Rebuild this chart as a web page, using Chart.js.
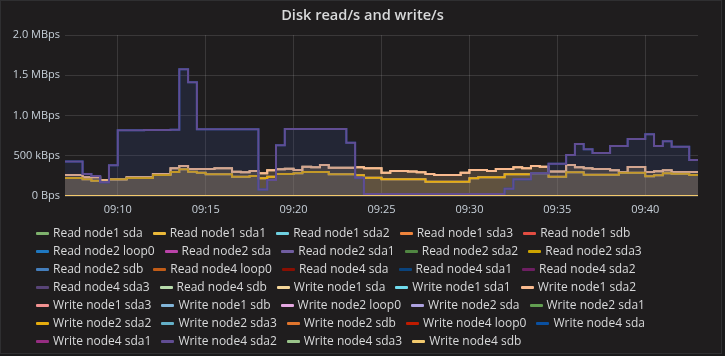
<!DOCTYPE html>
<html>
<head>
<meta charset="utf-8">
<script src="https://cdn.jsdelivr.net/npm/chart.js@4.4.1/dist/chart.umd.min.js"></script>
<style>
  html, body { margin: 0; padding: 0; width: 725px; height: 356px; overflow: hidden; background: #1a1a1b; }
  #panel { position: absolute; left: 0; top: 0; width: 720px; height: 352px; background: #1f1d1e; border: 1px solid #2f2f31; }
  #chart { position: absolute; left: 0; top: 0; }
  #legend { position: absolute; left: 36px; top: 224px; width: 680px; display: flex; flex-wrap: wrap;
            font-family: "Open Sans", sans-serif; font-size: 12px; color: #d8d9da; line-height: 18px; }
  .item { display: inline-flex; align-items: center; margin-right: 10px; white-space: nowrap; }
  .dash { width: 13px; height: 3px; border-radius: 1px; margin-right: 4px; }
</style>
</head>
<body>
<div id="panel"></div>
<canvas id="chart" width="725" height="356"></canvas>
<div id="legend"></div>
<script>
// ---- Data (kBps), one sample every 30 s ----
const timeLabels = [
  '09:07:00','09:07:30','09:08:00','09:08:30','09:09:00','09:09:30','09:10:00','09:10:30','09:11:00','09:11:30',
  '09:12:00','09:12:30','09:13:00','09:13:30','09:14:00','09:14:30','09:15:00','09:15:30','09:16:00','09:16:30',
  '09:17:00','09:17:30','09:18:00','09:18:30','09:19:00','09:19:30','09:20:00','09:20:30','09:21:00','09:21:30',
  '09:22:00','09:22:30','09:23:00','09:23:30','09:24:00','09:24:30','09:25:00','09:25:30','09:26:00','09:26:30',
  '09:27:00','09:27:30','09:28:00','09:28:30','09:29:00','09:29:30','09:30:00','09:30:30','09:31:00','09:31:30',
  '09:32:00','09:32:30','09:33:00','09:33:30','09:34:00','09:34:30','09:35:00','09:35:30','09:36:00','09:36:30',
  '09:37:00','09:37:30','09:38:00','09:38:30','09:39:00','09:39:30','09:40:00','09:40:30','09:41:00','09:41:30',
  '09:42:00','09:42:30','09:43:00'
];
const xTickLabels = ['09:10','09:15','09:20','09:25','09:30','09:35','09:40'];
const yTickValues = [0, 500, 1000, 1500, 2000];
const yTickLabels = ['0 Bps','500 kBps','1.0 MBps','1.5 MBps','2.0 MBps'];

const writeNode4Sda2 = [430,430,273,248,170,381,816,817,818,819,820,821,823,1574,1412,828,828,829,829,830,830,830,
  80,199,630,832,832,832,832,832,832,832,662,227,25,25,25,25,25,25,25,25,25,25,25,25,25,25,25,25,
  90,207,207,282,282,402,402,509,646,580,534,534,621,621,708,708,766,621,680,613,613,447,447];
const writeNode1Sda2 = [261,261,232,232,195,207,207,232,232,232,273,273,344,373,335,335,335,344,344,302,294,311,
  282,319,331,340,323,364,357,385,352,352,352,357,344,344,290,311,310,305,294,273,261,261,261,290,323,323,311,335,
  335,356,344,373,364,305,305,385,356,344,335,335,319,298,360,360,298,306,319,298,298,298,298];
const writeNode2Sda2 = [225,225,207,190,178,207,207,224,224,224,261,261,298,331,302,290,269,269,269,240,240,248,
  220,240,273,273,282,298,298,298,269,269,269,257,227,227,207,207,207,207,207,178,178,178,178,178,220,232,232,232,
  269,269,269,282,282,240,240,294,294,265,265,265,265,290,290,290,244,257,282,275,275,262,262];
// whole-disk write series overlap their sda2 partition exactly in the picture
const writeNode1Sda = writeNode1Sda2;
const writeNode2Sda = writeNode2Sda2;
const writeNode4Sda = writeNode4Sda2;
const idleSeries = [0,0,0,0,0,0,0,0,0,0,0,0,0,0,0,0,0,0,0,0,0,0,0,0,0,0,0,0,0,0,0,0,0,0,0,0,0,0,0,0,0,
  0,0,0,0,0,0,0,0,0,0,0,0,0,0,0,0,0,0,0,0,0,0,0,0,0,0,0,0,0,0,0,0];

const seriesNames = [
  'Read node1 sda','Read node1 sda1','Read node1 sda2','Read node1 sda3','Read node1 sdb',
  'Read node2 loop0','Read node2 sda','Read node2 sda1','Read node2 sda2','Read node2 sda3',
  'Read node2 sdb','Read node4 loop0','Read node4 sda','Read node4 sda1','Read node4 sda2',
  'Read node4 sda3','Read node4 sdb','Write node1 sda','Write node1 sda1','Write node1 sda2',
  'Write node1 sda3','Write node1 sdb','Write node2 loop0','Write node2 sda','Write node2 sda1',
  'Write node2 sda2','Write node2 sda3','Write node2 sdb','Write node4 loop0','Write node4 sda',
  'Write node4 sda1','Write node4 sda2','Write node4 sda3','Write node4 sdb'
];
const seriesColors = [
  '#7EB26D','#EAB839','#6ED0E0','#EF843C','#E24D42','#1F78C1','#BA43A9','#705DA0','#508642','#CCA300',
  '#447EBC','#C15C17','#890F02','#0A437C','#6D1F62','#584477','#B7DBAB','#F4D598','#70DBED','#F9BA8F',
  '#F29191','#82B5D8','#E5A8E2','#AEA2E0','#629E51','#E5AC0E','#64B0C8','#E0752D','#BF1B00','#0A50A1',
  '#962D82','#614D93','#9AC48A','#F2C96D'
];
const seriesData = {
  'Write node1 sda': writeNode1Sda, 'Write node1 sda2': writeNode1Sda2,
  'Write node2 sda': writeNode2Sda, 'Write node2 sda2': writeNode2Sda2,
  'Write node4 sda': writeNode4Sda, 'Write node4 sda2': writeNode4Sda2
};

function alpha(hex, a) {
  const n = parseInt(hex.slice(1), 16);
  return `rgba(${(n >> 16) & 255},${(n >> 8) & 255},${n & 255},${a})`;
}

const N = seriesNames.length;
const datasets = seriesNames.map((name, i) => ({
  label: name,
  data: seriesData[name] || idleSeries,
  borderColor: seriesColors[i],
  backgroundColor: alpha(seriesColors[i], 0.1),
  borderWidth: 2,
  fill: 'origin',
  stepped: true,
  pointRadius: 0,
  pointHoverRadius: 0,
  order: N - i
}));

const axisColor = '#c7d0d9';
const gridColor = 'rgba(255,255,255,0.12)';

const chart = new Chart(document.getElementById('chart'), {
  type: 'line',
  data: { labels: timeLabels, datasets },
  options: {
    responsive: false,
    animation: false,
    events: [],
    layout: { padding: { left: 0, right: 0, top: 0, bottom: 140 } },
    plugins: {
      legend: { display: false },
      tooltip: { enabled: false },
      title: {
        display: true,
        text: 'Disk read/s and write/s',
        color: '#d8d9da',
        font: { family: '"Open Sans", sans-serif', size: 14.6, weight: '600' },
        padding: { top: 7, bottom: 10.5 }
      }
    },
    scales: {
      x: {
        type: 'category',
        grid: { color: gridColor, drawTicks: false },
        border: { display: false },
        ticks: {
          autoSkip: false, maxRotation: 0, padding: 7, color: axisColor,
          font: { family: '"Open Sans", sans-serif', size: 11 },
          callback: function (value, index) {
            const l = timeLabels[index];
            const hm = l.slice(0, 5);
            return (l.endsWith(':00') && xTickLabels.includes(hm)) ? hm : null;
          }
        },
        afterFit: (s) => { s.height = 20; }
      },
      y: {
        min: 0, max: 2000,
        grid: { color: gridColor, drawTicks: false },
        border: { display: false },
        afterBuildTicks: (s) => { s.ticks = yTickValues.map(v => ({ value: v })); },
        ticks: {
          padding: 5, color: axisColor,
          font: { family: '"Open Sans", sans-serif', size: 11 },
          callback: (v) => yTickLabels[yTickValues.indexOf(v)]
        },
        afterFit: (s) => { s.width = 65; }
      },
      yRightSpace: {
        position: 'right',
        min: 0, max: 2000,
        grid: { display: false },
        border: { display: false },
        ticks: { display: false },
        afterFit: (s) => { s.width = 27; }
      }
    }
  }
});

// HTML legend, built from the chart's datasets
const legend = document.getElementById('legend');
chart.data.datasets.forEach(ds => {
  const item = document.createElement('span');
  item.className = 'item';
  const dash = document.createElement('span');
  dash.className = 'dash';
  dash.style.background = ds.borderColor;
  const txt = document.createElement('span');
  txt.textContent = ds.label;
  item.appendChild(dash);
  item.appendChild(txt);
  legend.appendChild(item);
});
</script>
</body>
</html>
